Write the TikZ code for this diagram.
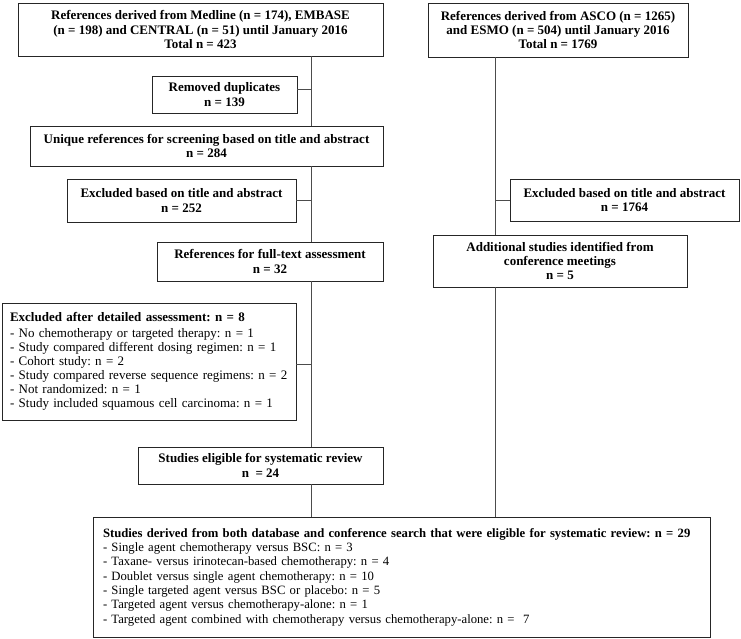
\documentclass[tikz,border=0pt]{standalone}
\usepackage{fontspec}
\setmainfont{Liberation Serif}
\frenchspacing
\begin{document}
\begin{tikzpicture}[x=1pt,y=-1pt,
  box/.style={draw=black!85, line width=0.9pt, inner sep=0pt, align=center,
    font=\fontsize{13}{14.4}\selectfont\bfseries},
  lbox/.style={draw=black!85, line width=0.9pt, inner xsep=6pt, inner ysep=0pt, align=left},
  link/.style={draw=black!70, line width=0.8pt}]
\useasboundingbox (0,0) rectangle (741,638);
% left column
\node[box, minimum width=365pt, minimum height=53pt] (b1) at (200.5,29.5)
  {References derived from Medline (n = 174), EMBASE\\(n = 198) and CENTRAL (n = 51) until January 2016\\Total n = 423};
\node[box, minimum width=145pt, minimum height=37pt] (dup) at (224.5,94.5)
  {Removed duplicates\\n = 139};
\node[box, minimum width=353pt, minimum height=40pt] (uniq) at (206.5,146)
  {Unique references for screening based on title and abstract\\n = 284};
\node[box, minimum width=229pt, minimum height=43pt] (ex1) at (181.5,200.5)
  {Excluded based on title and abstract\\n = 252};
\node[box, minimum width=226pt, minimum height=39pt] (full) at (270,261.5)
  {References for full-text assessment\\n = 32};
\node[lbox, font=\fontsize{13}{14.1}\selectfont, inner xsep=8pt, text width=278pt, minimum height=117pt] (exd) at (149,361.5)
  {\textbf{Excluded after detailed assessment: n = 8}\\[2pt]
   - No chemotherapy or targeted therapy: n = 1\\
   - Study compared different dosing regimen: n = 1\\
   - Cohort study: n = 2\\
   - Study compared reverse sequence regimens: n = 2\\
   - Not randomized: n = 1\\
   - Study included squamous cell carcinoma: n = 1\\[3pt]};
\node[box, minimum width=245pt, minimum height=37pt] (elig) at (260.5,465.5)
  {Studies eligible for systematic review\\n\ \ = 24};
% right column
\node[box, minimum width=260pt, minimum height=54pt] (asco) at (558,30)
  {References derived from ASCO (n = 1265)\\and ESMO (n = 504) until January 2016\\Total n = 1769};
\node[box, minimum width=229pt, minimum height=42pt] (ex2) at (624.5,200)
  {Excluded based on title and abstract\\n = 1764};
\node[box, minimum width=254pt, minimum height=52pt] (add) at (560,261)
  {Additional studies identified from\\conference meetings\\n = 5};
% bottom
\node[lbox, font=\fontsize{12.7}{14.3}\selectfont, inner xsep=10pt, text width=597pt, minimum height=120pt] (bot) at (401.5,577)
  {\textbf{Studies derived from both database and conference search that were eligible for systematic review: n = 29}\\
   - Single agent chemotherapy versus BSC: n = 3\\
   - Taxane- versus irinotecan-based chemotherapy: n = 4\\
   - Doublet versus single agent chemotherapy: n = 10\\
   - Single targeted agent versus BSC or placebo: n = 5\\
   - Targeted agent versus chemotherapy-alone: n = 1\\
   - Targeted agent combined with chemotherapy versus chemotherapy-alone: n =\ \ 7\\[5pt]};
% trunks
\coordinate (tl) at (311,0);
\coordinate (tr) at (495,0);
\draw[link] (b1.south -| tl) -- (uniq.north -| tl);
\draw[link] (uniq.south -| tl) -- (full.north -| tl);
\draw[link] (full.south -| tl) -- (elig.north -| tl);
\draw[link] (elig.south -| tl) -- (bot.north -| tl);
\draw[link] ([yshift=5.5pt]dup.east) -- ([yshift=5.5pt]dup.east -| tl);
\draw[link] (ex1.east) -- (ex1.east -| tl);
\draw[link] ([yshift=-2.5pt]exd.east) -- ([yshift=-2.5pt]exd.east -| tl);
\draw[link] (asco.south -| tr) -- (add.north -| tr);
\draw[link] (ex2.west) -- (ex2.west -| tr);
\draw[link] (add.south -| tr) -- (bot.north -| tr);
\end{tikzpicture}
\end{document}
